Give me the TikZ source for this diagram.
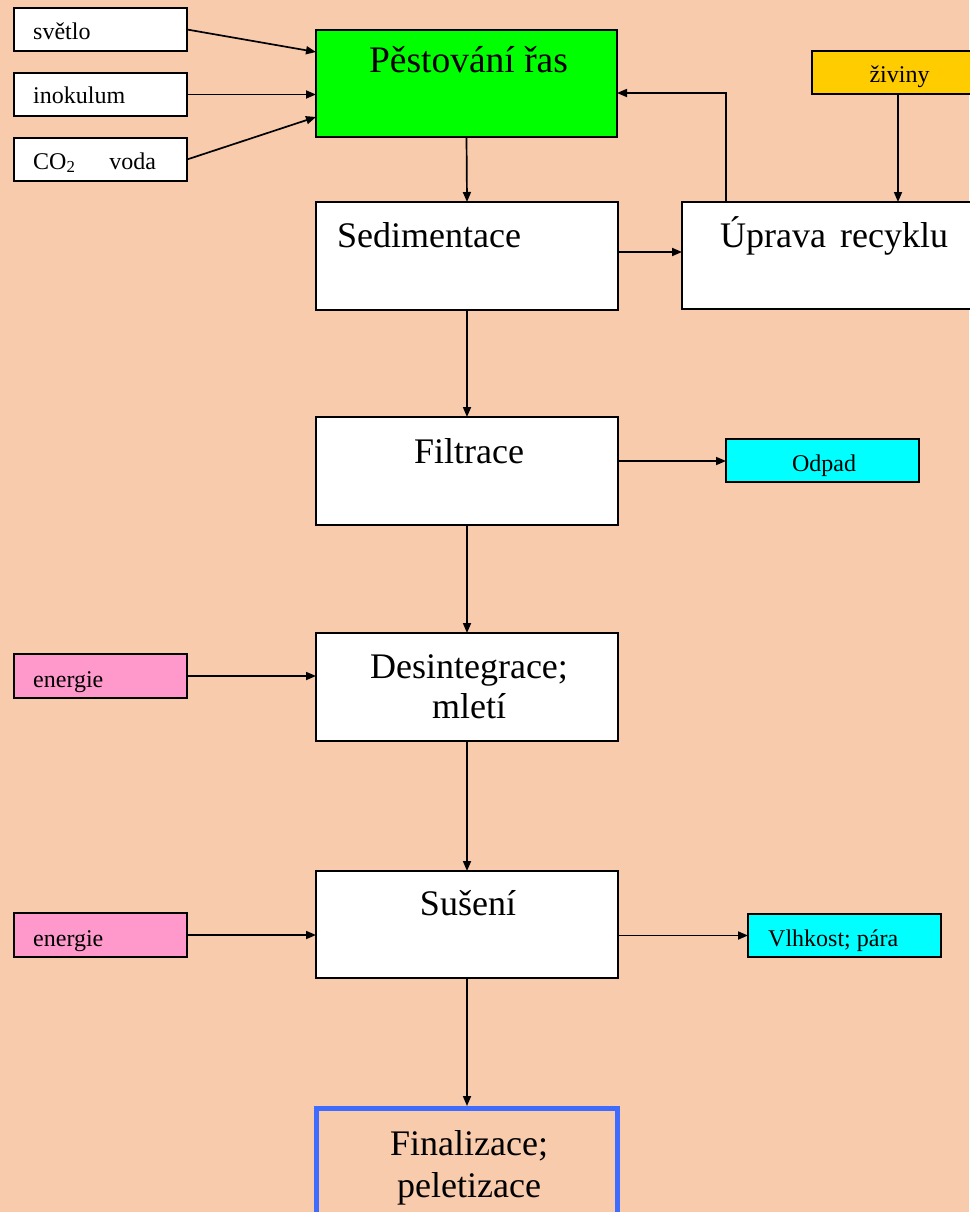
\documentclass[tikz,border=0pt]{standalone}
\usepackage{fontspec}
\setmainfont{Liberation Serif}
\usetikzlibrary{arrows.meta}
\definecolor{bg}{HTML}{F8CBAD}
\definecolor{grn}{HTML}{00FF00}
\definecolor{yel}{HTML}{FFCC00}
\definecolor{cyn}{HTML}{00FFFF}
\definecolor{pnk}{HTML}{FF99CC}
\definecolor{blu}{HTML}{3F6BFF}
\begin{document}
\begin{tikzpicture}[x=1pt,y=-1pt,
  box/.style={draw=black,line width=1.7pt,fill=white,inner sep=0pt,outer sep=0pt,anchor=north west},
  finbox/.style={draw=blu,line width=5pt,inner sep=0pt,outer sep=2.5pt,anchor=north west},
  arr/.style={-{Triangle[length=10pt,width=8pt]},line width=1.7pt},
  big/.style={font=\fontsize{36}{40}\selectfont,anchor=base,inner sep=0pt},
  bigw/.style={big,anchor=base west},
  small/.style={font=\fontsize{24}{28}\selectfont,anchor=base,inner sep=0pt},
  smallw/.style={small,anchor=base west}]
\fill[bg] (0,0) rectangle (969,1212);
\useasboundingbox (0,0) rectangle (969,1212);

% boxes
\node[box,minimum width=173pt,minimum height=43pt] (svet) at (14,8) {};
\node[box,minimum width=173pt,minimum height=43pt] (ino) at (14,73) {};
\node[box,minimum width=173pt,minimum height=43pt] (co) at (14,138) {};
\node[box,fill=grn,minimum width=301pt,minimum height=107pt] (pest) at (316,30) {};
\node[box,fill=yel,minimum width=163pt,minimum height=43pt] (ziv) at (812,51) {};
\node[box,minimum width=302pt,minimum height=108pt] (sed) at (316,202) {};
\node[box,minimum width=293pt,minimum height=107pt] (upr) at (682,202) {};
\node[box,minimum width=302pt,minimum height=108pt] (filt) at (316,417) {};
\node[box,fill=cyn,minimum width=193pt,minimum height=43pt] (odp) at (726,439) {};
\node[box,fill=pnk,minimum width=173pt,minimum height=44pt] (en1) at (14,654) {};
\node[box,minimum width=302pt,minimum height=108pt] (des) at (316,633) {};
\node[box,fill=pnk,minimum width=173pt,minimum height=44pt] (en2) at (14,913) {};
\node[box,minimum width=302pt,minimum height=107pt] (sus) at (316,871) {};
\node[box,fill=cyn,minimum width=193pt,minimum height=43pt] (vlh) at (748,914) {};
\node[finbox,minimum width=301pt,minimum height=140pt] (fin) at (314,1106) {};

% texts
\node[smallw] (tsvet) at (33,40) {světlo};
\node[smallw] (tino) at (33,104) {inokulum};
\node[smallw] (tco) at (33,169) {CO\textsubscript{2}\hspace{34pt}voda};
\node[big,font=\fontsize{37.5}{40}\selectfont] (tpest) at (468.5,73) {Pěstování řas};
\node[small] (tziv) at (899.5,83) {živiny};
\node[bigw] (tsed) at (337,247) {Sedimentace};
\node[bigw] (tupr) at (720,247) {Úprava\hspace{14pt}recyklu};
\node[big] (tfilt) at (469,463) {Filtrace};
\node[small] (todp) at (824,471) {Odpad};
\node[smallw] (ten1) at (33,687) {energie};
\node[big] (tdes1) at (469,678) {Desintegrace;};
\node[big] (tdes2) at (469,718) {mletí};
\node[smallw] (ten2) at (33,946) {energie};
\node[big] (tsus) at (468,915) {Sušení};
\node[smallw] (tvlh) at (768,946) {Vlhkost; pára};
\node[big] (tfin1) at (469,1155) {Finalizace;};
\node[big] (tfin2) at (469,1197) {peletizace};

% helper coordinates
\coordinate (hsed) at (0,252);
\coordinate (fb) at (726,93);
\coordinate (zx) at (898,0);
\coordinate (hfilt) at (0,461);

% connectors
\draw[arr] (svet.east) -- ([yshift=-22pt]pest.north west);
\draw[arr] (ino.east) -- (ino.east -| pest.west);
\draw[arr] (co.east) -- ([yshift=-87pt]pest.north west);
\draw[arr] (pest.south) -- (sed.north);
\draw[arr] (sed.east |- hsed) -- (upr.west |- hsed);
\draw[arr] (upr.north -| fb) |- (pest.east |- fb);
\draw[arr] (ziv.south -| zx) -- (upr.north -| zx);
\draw[arr] (sed.south) -- (filt.north);
\draw[arr] (filt.east |- hfilt) -- (odp.west |- hfilt);
\draw[arr] (filt.south) -- (des.north);
\draw[arr] (en1.east) -- (en1.east -| des.west);
\draw[arr] (des.south) -- (sus.north);
\draw[arr] (en2.east) -- (en2.east -| sus.west);
\draw[arr] (sus.east |- vlh.west) -- (vlh.west);
\draw[arr] (sus.south) -- (fin.north);
\end{tikzpicture}
\end{document}
